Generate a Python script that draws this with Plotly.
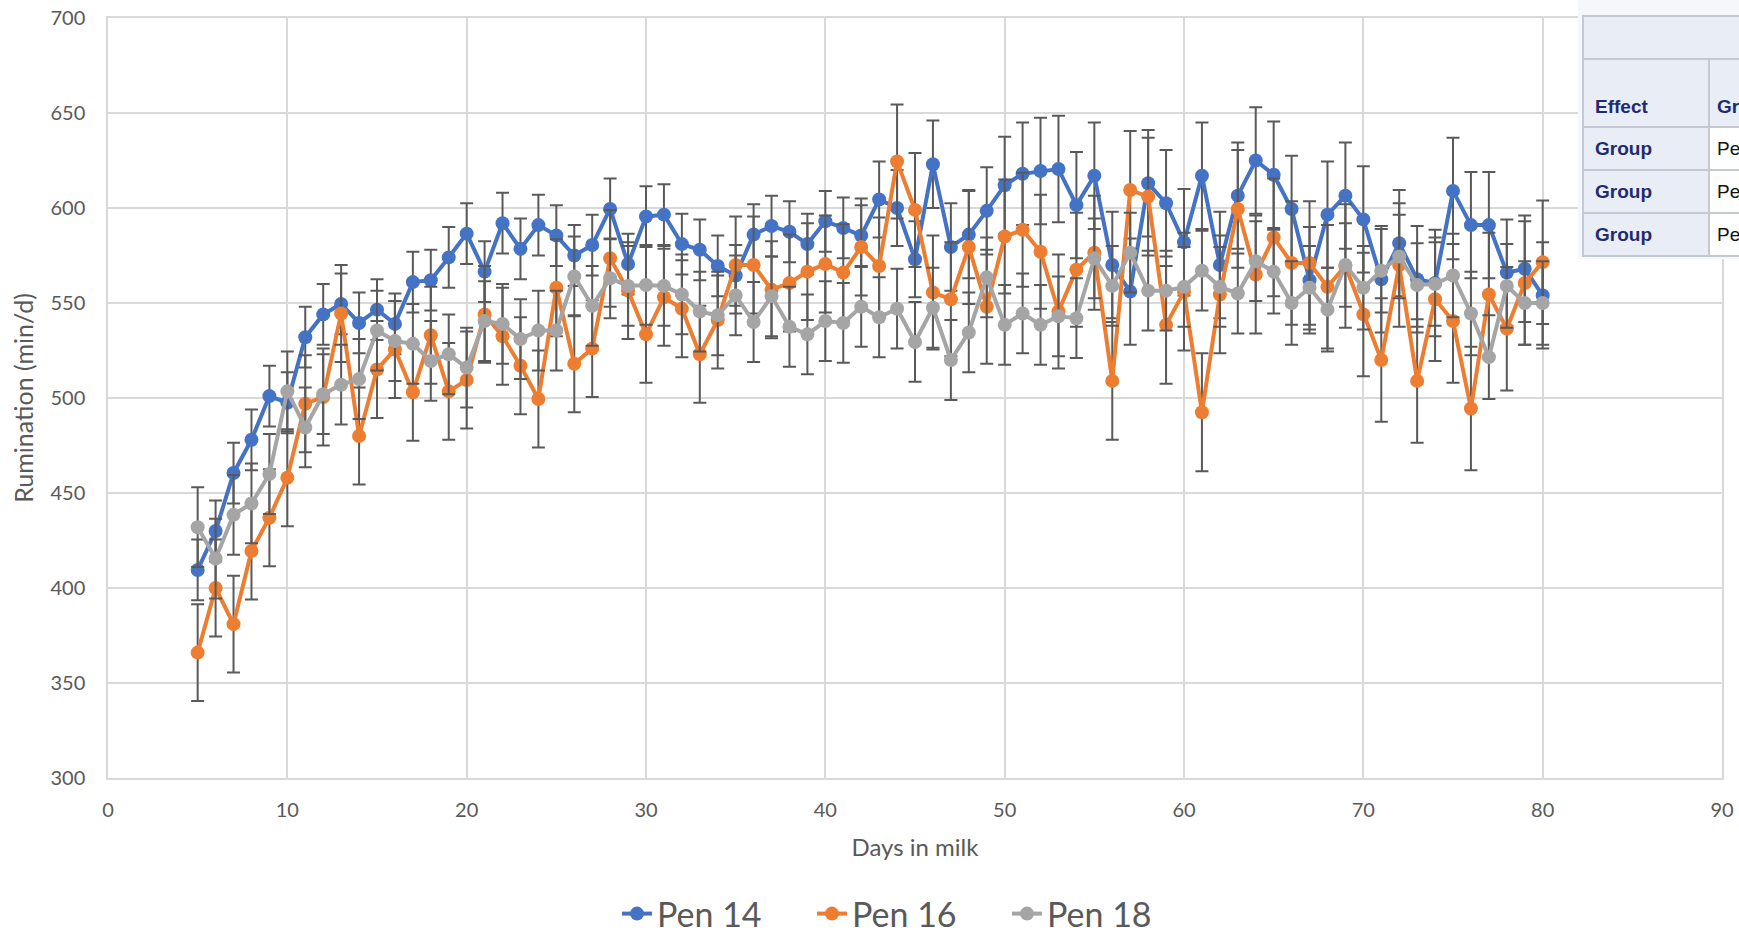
import plotly.graph_objects as go

# ---------------- data ----------------
days = list(range(5, 81))

pen14 = [409.5, 430, 460.5, 478, 501, 497.5, 532, 544, 549.5, 539.5,
         546.5, 539, 561, 562, 574, 586.5, 566.5, 592, 578.5, 591,
         585.5, 575, 580.5, 599.5, 570.5, 595.5, 596.5, 581, 578, 569.5,
         564.5, 586, 590.5, 587.5, 581, 593, 589.5, 585.5, 604.5, 600,
         573, 623, 579.5, 586, 598.5, 612, 618, 619.5, 620.5, 601.5,
         617, 570, 556, 613, 602.5, 582, 617, 570, 606.5, 625,
         617.5, 599.5, 562, 596.5, 606.5, 594, 562.5, 581.5, 562.5, 560.5,
         609, 591, 591, 566, 568, 554]

pen16 = [366, 400, 381, 419.5, 437, 458, 497, 500.5, 544.5, 480,
         515, 525.5, 503, 533, 503.5, 509.5, 544, 532.5, 517, 499.5,
         558, 518, 526, 573.5, 556.5, 533.5, 553, 547, 523, 541,
         570, 570, 557, 560.5, 566.5, 570.5, 566, 579.5, 569.5, 624.5,
         599, 555.5, 552, 579.5, 548, 585, 588.5, 577, 545.5, 567.5,
         576.5, 509, 609.5, 606, 538.5, 556, 492.5, 554.5, 599.5, 565,
         584.5, 571, 571, 558.5, 569.5, 544, 520, 570, 509, 552,
         540.5, 494.5, 554.5, 536.5, 560.5, 571.5]

pen18 = [432, 415.5, 438.5, 444.5, 460, 503.5, 484.5, 502, 507, 510,
         535.5, 530, 528.5, 519.5, 523, 516, 540.5, 539, 531, 535.5,
         535.5, 564, 548.5, 563, 559, 559.5, 559, 554.5, 545.5, 543.5,
         554, 540, 553.5, 537.5, 533.5, 540.5, 539.5, 548, 542.5, 547,
         529.5, 547.5, 520, 534.5, 563.5, 538.5, 544.5, 538.5, 543, 542,
         573.5, 559, 576.5, 556.5, 556.5, 558.5, 567, 558.5, 555, 572,
         566.5, 550, 558, 546.5, 570, 558, 567, 574.5, 559.5, 560,
         564.5, 544.5, 521.5, 559, 550, 550]

# standard errors (symmetric error bars), read per day
err14 = [16] * 38 + [20, 20, 20] + [23, 23, 23, 23] + [25.5, 27] + [28] * 29
err16 = [25.5] * 39 + [30] * 12 + [31] * 10 + [32.5] * 15
err18 = [21] * 60 + [22] * 16

series_names = ["Pen 14", "Pen 16", "Pen 18"]
series_values = [pen14, pen16, pen18]
series_errors = [err14, err16, err18]
series_colors = ["#4472C4", "#ED7D31", "#A5A5A5"]

x_title = "Days in milk"
y_title = "Rumination (min/d)"

# overlapping results-table fragment (right edge of the screenshot)
table_header = ["Effect", "Gr"]
table_rows = [["Group", "Pe"], ["Group", "Pe"], ["Group", "Pe"]]

# ---------------- figure ----------------
W, H = 1739, 943
L, R, T, B = 108, 17, 18, 165
PW, PH = W - L - R, H - T - B


def px_x(px):
    return (px - L) / PW


def px_y(py):
    return (H - B - py) / PH


FONT = "Lato, 'Open Sans', sans-serif"
TXT = "#595959"

fig = go.Figure()
for name, vals, errs, col in zip(series_names, series_values, series_errors, series_colors):
    fig.add_trace(go.Scatter(
        x=days, y=vals, name=name, mode="lines+markers",
        line=dict(color=col, width=4),
        marker=dict(color=col, size=14, symbol="circle"),
        error_y=dict(type="data", array=errs, visible=True,
                     color="#595959", thickness=2, width=6.5),
    ))

fig.update_layout(
    width=W, height=H,
    margin=dict(l=L, r=R, t=T, b=B, autoexpand=False),
    paper_bgcolor="white", plot_bgcolor="white",
    font=dict(family=FONT, color=TXT, size=20),
    showlegend=True,
    legend=dict(orientation="h", xref="container", yref="container",
                x=0.523, xanchor="center", y=-0.005, yanchor="bottom",
                font=dict(size=34, color=TXT, family=FONT),
                entrywidth=150, bgcolor="rgba(0,0,0,0)"),
)
fig.update_xaxes(
    range=[0, 90], dtick=10, tick0=0,
    showgrid=True, gridcolor="#D9D9D9", gridwidth=1.5,
    zeroline=False, showline=True, linecolor="#D9D9D9", linewidth=1.5, mirror=True,
    ticks="", ticklabelstandoff=13,
    tickfont=dict(size=20, color=TXT, family=FONT),
    title=dict(text=x_title, font=dict(size=24, color=TXT, family=FONT), standoff=19),
    automargin=False,
)
fig.update_yaxes(
    range=[300, 700], dtick=50, tick0=300,
    showgrid=True, gridcolor="#D9D9D9", gridwidth=1.5,
    zeroline=False, showline=True, linecolor="#D9D9D9", linewidth=1.5, mirror=True,
    ticks="", ticklabelstandoff=17,
    tickfont=dict(size=20, color=TXT, family=FONT),
    title=dict(text=y_title, font=dict(size=25, color=TXT, family=FONT), standoff=10),
    automargin=False,
)

# ---- table fragment overlay (pixel layout converted to paper coords) ----
shapes = []
HEAD_FILL = "#E9EEF6"
BORDER = "#C3C8D3"
shapes.append(dict(type="rect", xref="paper", yref="paper", layer="above",
                   x0=px_x(1578), x1=px_x(1745), y0=px_y(0), y1=px_y(259),
                   fillcolor="#F6F7FA", line=dict(width=0)))
shapes.append(dict(type="rect", xref="paper", yref="paper", layer="above",
                   x0=px_x(1583), x1=px_x(1745), y0=px_y(16), y1=px_y(127),
                   fillcolor=HEAD_FILL, line=dict(color=BORDER, width=2)))
shapes.append(dict(type="line", xref="paper", yref="paper", layer="above",
                   x0=px_x(1583), x1=px_x(1745), y0=px_y(59), y1=px_y(59),
                   line=dict(color=BORDER, width=2)))
row_tops = [127, 170, 213]
row_h = 43
for rt in row_tops:
    shapes.append(dict(type="rect", xref="paper", yref="paper", layer="above",
                       x0=px_x(1583), x1=px_x(1709), y0=px_y(rt), y1=px_y(rt + row_h),
                       fillcolor=HEAD_FILL, line=dict(color=BORDER, width=2)))
    shapes.append(dict(type="rect", xref="paper", yref="paper", layer="above",
                       x0=px_x(1709), x1=px_x(1745), y0=px_y(rt), y1=px_y(rt + row_h),
                       fillcolor="white", line=dict(color=BORDER, width=2)))
shapes.append(dict(type="line", xref="paper", yref="paper", layer="above",
                   x0=px_x(1709), x1=px_x(1709), y0=px_y(59), y1=px_y(127),
                   line=dict(color=BORDER, width=2)))
fig.update_layout(shapes=shapes)

TFONT = "'Liberation Sans', Arial, sans-serif"
NAVY = "#1F2B6E"
ann = []
ann.append(dict(text="<b>%s</b>" % table_header[0], x=px_x(1593), y=px_y(106),
                xref="paper", yref="paper", xanchor="left", yanchor="middle",
                showarrow=False, font=dict(family=TFONT, size=19, color=NAVY)))
ann.append(dict(text="<b>%s</b>" % table_header[1], x=px_x(1715), y=px_y(106),
                xref="paper", yref="paper", xanchor="left", yanchor="middle",
                showarrow=False, font=dict(family=TFONT, size=19, color=NAVY)))
for rt, row in zip(row_tops, table_rows):
    ann.append(dict(text="<b>%s</b>" % row[0], x=px_x(1593), y=px_y(rt + row_h / 2),
                    xref="paper", yref="paper", xanchor="left", yanchor="middle",
                    showarrow=False, font=dict(family=TFONT, size=19, color=NAVY)))
    ann.append(dict(text=row[1], x=px_x(1715), y=px_y(rt + row_h / 2),
                    xref="paper", yref="paper", xanchor="left", yanchor="middle",
                    showarrow=False, font=dict(family=TFONT, size=19, color="#111111")))
fig.update_layout(annotations=ann)

fig.write_html(
    "out.html",
    config={"displayModeBar": False},
    post_script="document.body.style.margin='0';document.documentElement.style.overflow='hidden';",
)
